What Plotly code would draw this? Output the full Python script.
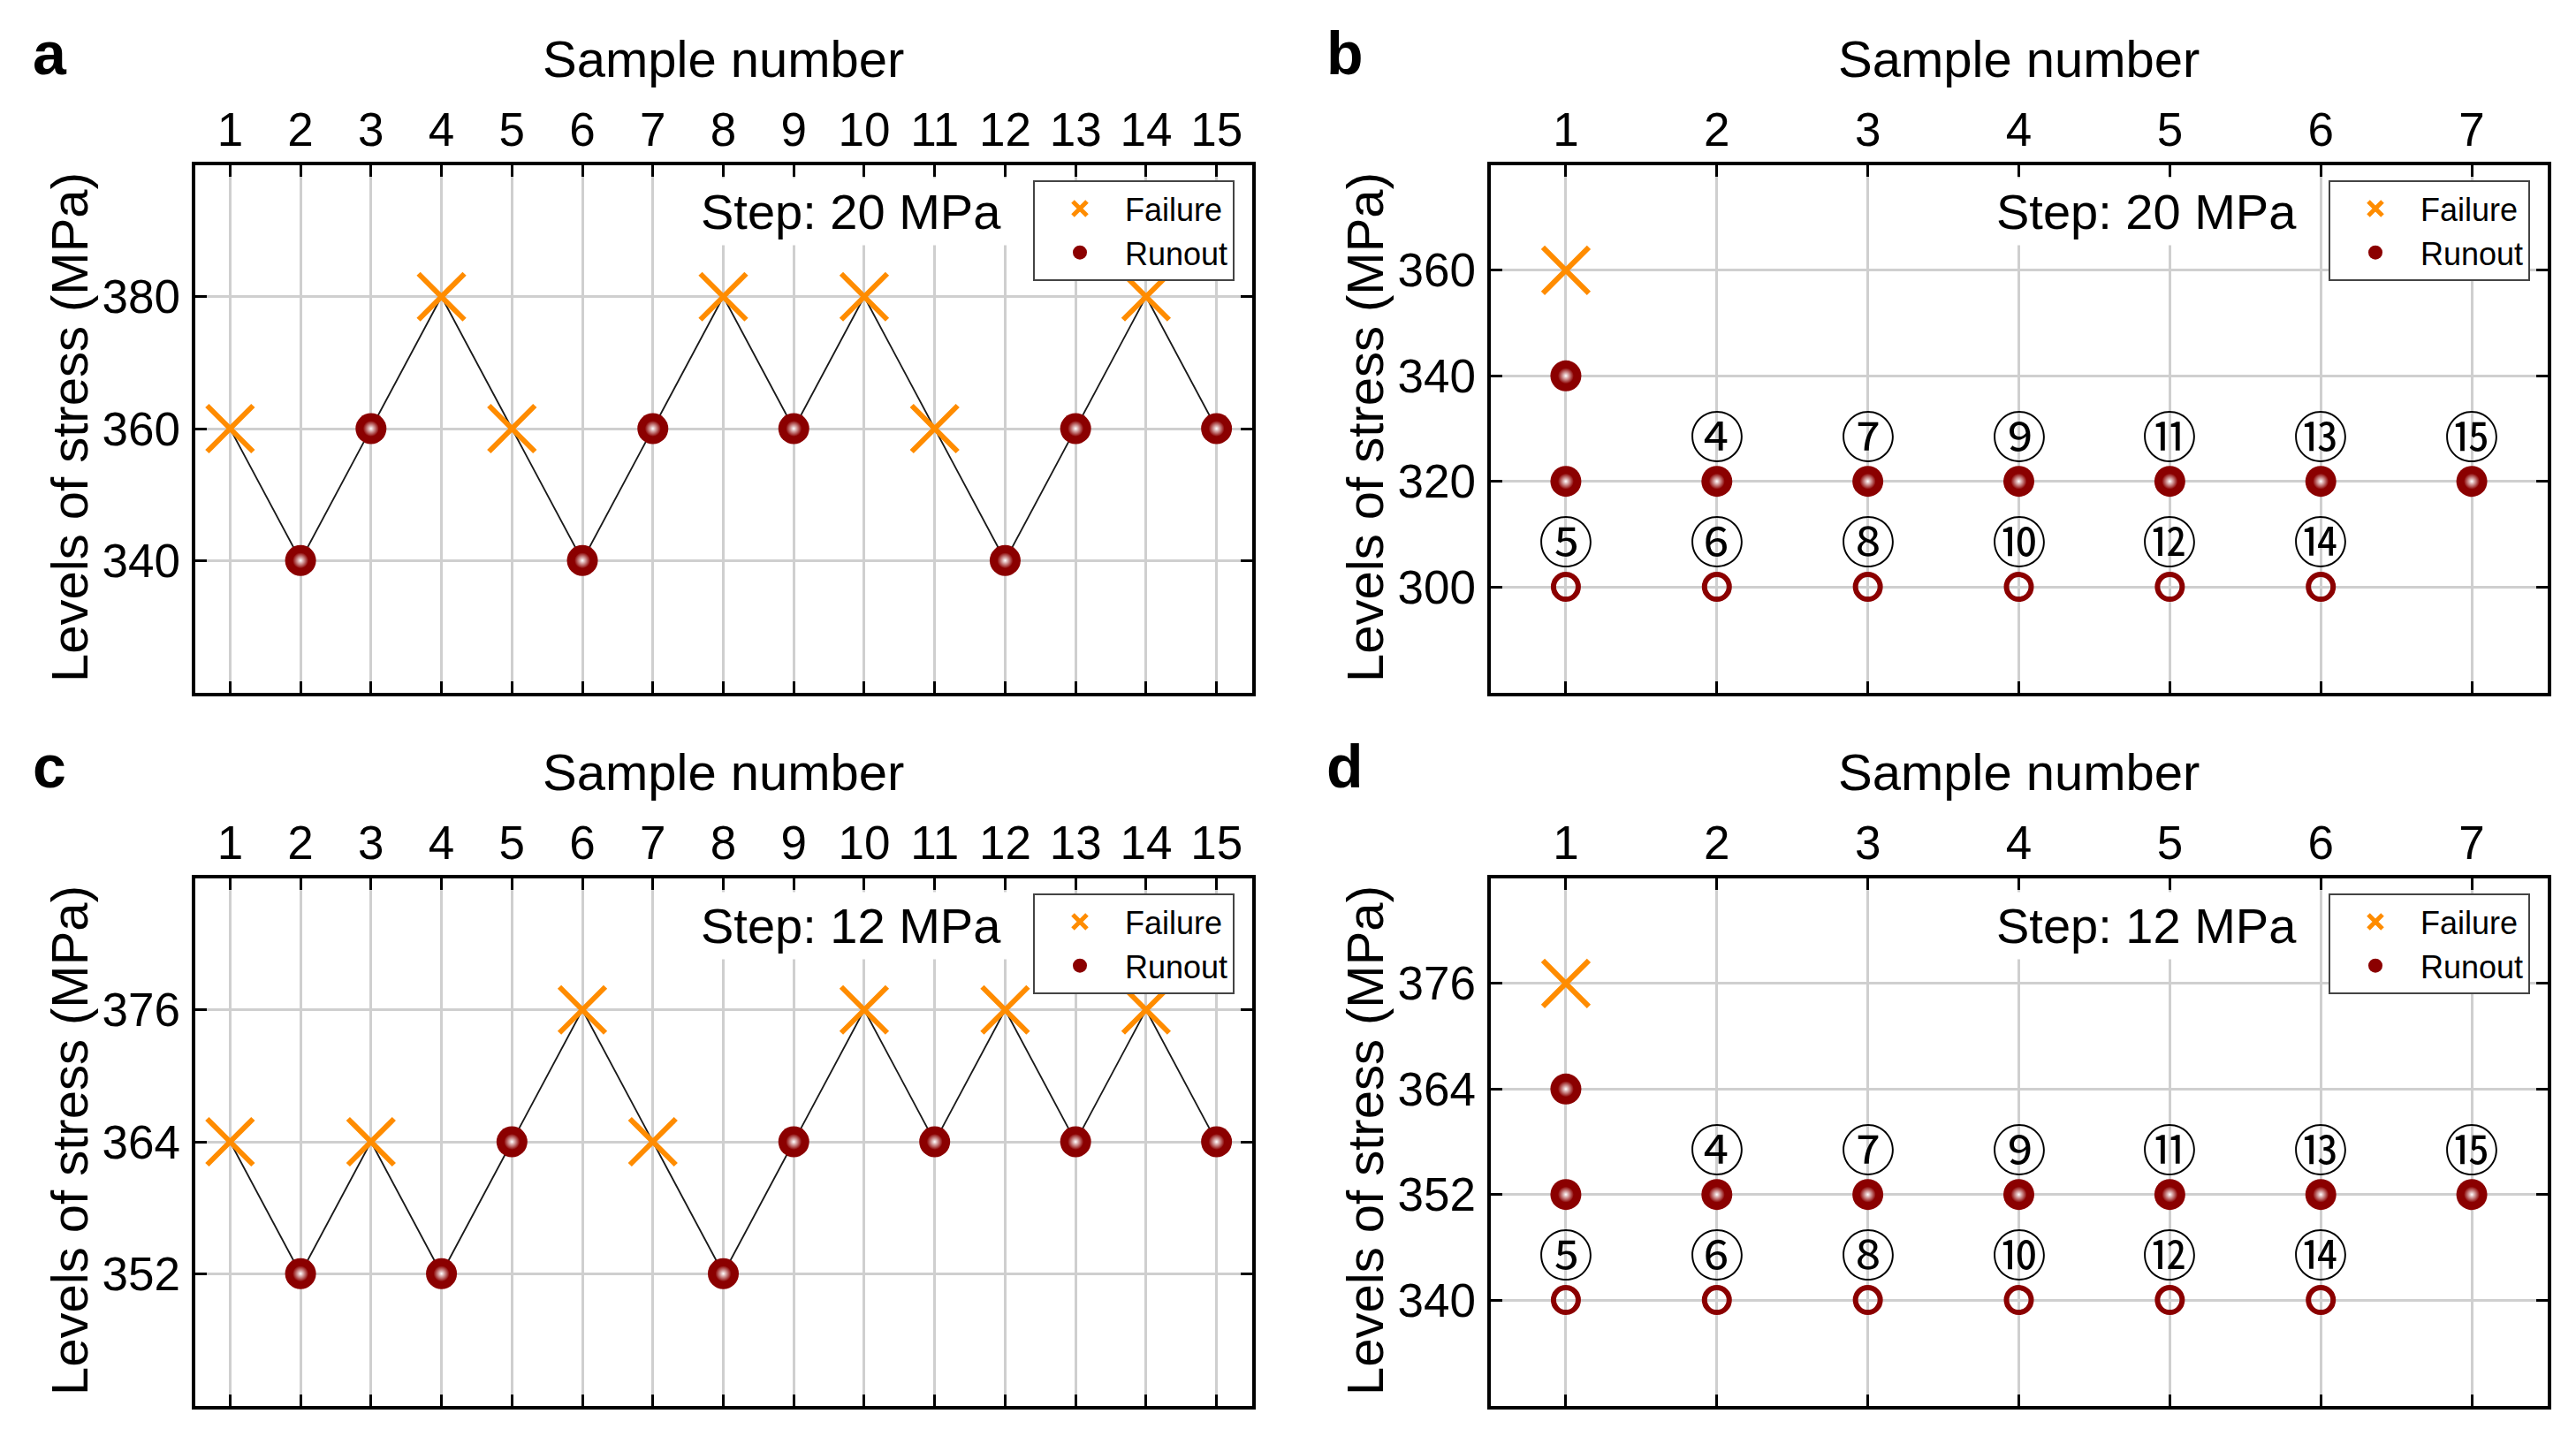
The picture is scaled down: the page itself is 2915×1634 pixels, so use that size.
import plotly.graph_objects as go

W, H = 2915, 1634

# ---------------- data ----------------
samples_15 = list(range(1, 16))
a_stress = [360, 340, 360, 380, 360, 340, 360, 380, 360, 380, 360, 340, 360, 380, 360]
a_result = ["F", "R", "R", "F", "F", "R", "R", "F", "R", "F", "F", "R", "R", "F", "R"]
c_stress = [364, 352, 364, 352, 364, 376, 364, 352, 364, 376, 364, 376, 364, 376, 364]
c_result = ["F", "R", "F", "R", "R", "F", "F", "R", "R", "F", "R", "F", "R", "F", "R"]

b_fail_x = [1]
b_fail_y = [360]
b_run_x = [1, 1, 2, 3, 4, 5, 6, 7]
b_run_y = [340, 320, 320, 320, 320, 320, 320, 320]
b_open_x = [1, 2, 3, 4, 5, 6]
b_open_y = [300, 300, 300, 300, 300, 300]

d_fail_x = [1]
d_fail_y = [376]
d_run_x = [1, 1, 2, 3, 4, 5, 6, 7]
d_run_y = [364, 352, 352, 352, 352, 352, 352, 352]
d_open_x = [1, 2, 3, 4, 5, 6]
d_open_y = [340, 340, 340, 340, 340, 340]

upper_label_x = [2, 3, 4, 5, 6, 7]
upper_labels = ["④", "⑦", "⑨", "⑪", "⑬", "⑮"]
lower_label_x = [1, 2, 3, 4, 5, 6]
lower_labels = ["⑤", "⑥", "⑧", "⑩", "⑫", "⑭"]
b_upper_level, b_lower_level = 320, 300
d_upper_level, d_lower_level = 352, 340

a_yticks = [340, 360, 380]
b_yticks = [300, 320, 340, 360]
c_yticks = [352, 364, 376]
d_yticks = [340, 352, 364, 376]
x15_ticks = list(range(1, 16))
x7_ticks = list(range(1, 8))

steps = ["Step: 20 MPa", "Step: 20 MPa", "Step: 12 MPa", "Step: 12 MPa"]
panel_letters = ["a", "b", "c", "d"]

# ---------------- styles ----------------
FONT = "Liberation Sans, Arial, Helvetica, sans-serif"
CIRC_FONT = "Noto Sans CJK SC, DejaVu Sans"
ORANGE = "#FF8C00"
DARKRED = "#8B0000"
GRID = "#cfcfcf"

# plot frames in pixels (left, right, top, bottom) - frame line centres
frames = {
    "a": (218.0, 1419.0, 184.0, 786.0),
    "b": (1684.0, 2885.0, 184.0, 786.0),
    "c": (218.0, 1419.0, 991.0, 1593.0),
    "d": (1684.0, 2885.0, 991.0, 1593.0),
}
INSET = 2.5  # plotly draws the axis line just outside the domain


def px(x):
    return x / W


def py(y):
    return 1 - y / H


fig = go.Figure()

axis_common = dict(
    showline=True, linecolor="black", linewidth=4, mirror="allticks",
    ticks="inside", ticklen=13, tickwidth=3, tickcolor="black",
    showgrid=True, gridcolor=GRID, gridwidth=2.5, zeroline=False,
    tickfont=dict(family=FONT, size=53, color="black"),
)

keys = ["a", "b", "c", "d"]
xnames = ["x", "x2", "x3", "x4"]
ynames = ["y", "y2", "y3", "y4"]
legnames = ["legend", "legend2", "legend3", "legend4"]
yranges = [[320, 400], [280, 380], [340, 388], [328, 388]]
xranges = [[0.5, 15.5], [0.5, 7.5], [0.5, 15.5], [0.5, 7.5]]
yticks_all = [a_yticks, b_yticks, c_yticks, d_yticks]
xticks_all = [x15_ticks, x7_ticks, x15_ticks, x7_ticks]

layout = dict(
    width=W, height=H, margin=dict(l=0, r=0, t=0, b=0),
    paper_bgcolor="white", plot_bgcolor="white",
    font=dict(family=FONT, color="black"),
)

for i, k in enumerate(keys):
    L, R, T, B = frames[k]
    xa = dict(axis_common)
    xa.update(domain=[px(L + INSET), px(R - INSET)], range=xranges[i], side="top",
              tickvals=xticks_all[i], anchor=ynames[i], ticklabelstandoff=-4)
    ya = dict(axis_common)
    ya.update(domain=[py(B - INSET), py(T + INSET)], range=yranges[i],
              tickvals=yticks_all[i], anchor=xnames[i], ticklabelstandoff=2)
    sfx = "" if i == 0 else str(i + 1)
    layout["xaxis" + sfx] = xa
    layout["yaxis" + sfx] = ya
    # legend box
    lx = L + (1169 - 218)
    ly = T + (204 - 184)
    layout[legnames[i]] = dict(
        x=px(lx), y=py(ly), xanchor="left", yanchor="top",
        bgcolor="white", bordercolor="#444444", borderwidth=2,
        font=dict(family=FONT, size=36, color="black"),
        itemwidth=92, tracegroupgap=0, traceorder="normal",
    )


def add_failure(x, y, xr, yr, leg):
    fig.add_trace(go.Scatter(
        x=x, y=y, mode="markers", name="Failure", xaxis=xr, yaxis=yr,
        legend=leg, showlegend=True,
        marker=dict(symbol="x-thin", size=52, color=ORANGE,
                    line=dict(width=6, color=ORANGE)),
    ))


def add_runout(x, y, xr, yr, leg):
    fig.add_trace(go.Scatter(
        x=x, y=y, mode="markers", name="Runout", xaxis=xr, yaxis=yr,
        legend=leg, showlegend=True,
        marker=dict(symbol="circle", size=35, color=DARKRED, line=dict(width=0)),
    ))
    fig.add_trace(go.Scatter(
        x=x, y=y, mode="markers", name="Runout", xaxis=xr, yaxis=yr,
        showlegend=False, hoverinfo="skip",
        marker=dict(symbol="circle", size=18, color=DARKRED, line=dict(width=0),
                    gradient=dict(type="radial", color="#ffffff")),
    ))


# panels a and c (staircase sequences)
for i, (stress, result) in zip([0, 2], [(a_stress, a_result), (c_stress, c_result)]):
    xr, yr, leg = xnames[i], ynames[i], legnames[i]
    fig.add_trace(go.Scatter(
        x=samples_15, y=stress, mode="lines", xaxis=xr, yaxis=yr,
        line=dict(color="#1a1a1a", width=1.8), showlegend=False, hoverinfo="skip",
    ))
    fx = [s for s, r in zip(samples_15, result) if r == "F"]
    fy = [v for v, r in zip(stress, result) if r == "F"]
    rx = [s for s, r in zip(samples_15, result) if r == "R"]
    ry = [v for v, r in zip(stress, result) if r == "R"]
    add_failure(fx, fy, xr, yr, leg)
    add_runout(rx, ry, xr, yr, leg)

# panels b and d
for i, (fxs, fys, rxs, rys, oxs, oys) in zip(
        [1, 3],
        [(b_fail_x, b_fail_y, b_run_x, b_run_y, b_open_x, b_open_y),
         (d_fail_x, d_fail_y, d_run_x, d_run_y, d_open_x, d_open_y)]):
    xr, yr, leg = xnames[i], ynames[i], legnames[i]
    add_failure(fxs, fys, xr, yr, leg)
    add_runout(rxs, rys, xr, yr, leg)
    fig.add_trace(go.Scatter(
        x=oxs, y=oys, mode="markers", xaxis=xr, yaxis=yr, showlegend=False,
        marker=dict(symbol="circle-open", size=28, color=DARKRED,
                    line=dict(width=6, color=DARKRED)),
    ))

annotations = []
for i, k in enumerate(keys):
    L, R, T, B = frames[k]
    # x-axis title (top)
    annotations.append(dict(
        text="Sample number", x=px((L + R) / 2), y=py(T - 118), xref="paper", yref="paper",
        xanchor="center", yanchor="middle", showarrow=False,
        font=dict(family=FONT, size=58, color="black"),
    ))
    # y-axis title
    annotations.append(dict(
        text="Levels of stress (MPa)", x=px(L - 140), y=py((T + B) / 2 - 1), xref="paper", yref="paper",
        xanchor="center", yanchor="middle", textangle=-90, showarrow=False,
        font=dict(family=FONT, size=58, color="black"),
    ))
    # step label
    annotations.append(dict(
        text=steps[i], x=px(L + (1140 - 218)), y=py(T + (240 - 184)), xref="paper", yref="paper",
        xanchor="right", yanchor="middle", showarrow=False, bgcolor="white", borderpad=6,
        font=dict(family=FONT, size=56, color="black"),
    ))
    # panel letter
    annotations.append(dict(
        text="<b>%s</b>" % panel_letters[i], x=px(L - 162), y=py(T - 124), xref="paper", yref="paper",
        xanchor="center", yanchor="middle", showarrow=False,
        font=dict(family=FONT, size=68, color="black"),
    ))

# circled sample numbers in panels b and d
for i, (up_lvl, lo_lvl) in zip([1, 3], [(b_upper_level, b_lower_level), (d_upper_level, d_lower_level)]):
    for xv, lab in zip(upper_label_x, upper_labels):
        annotations.append(dict(
            text=lab, x=xv, y=up_lvl, xref=xnames[i], yref=ynames[i], yshift=54,
            xanchor="center", yanchor="middle", showarrow=False,
            font=dict(family=CIRC_FONT, size=62, color="black"),
        ))
    for xv, lab in zip(lower_label_x, lower_labels):
        annotations.append(dict(
            text=lab, x=xv, y=lo_lvl, xref=xnames[i], yref=ynames[i], yshift=54,
            xanchor="center", yanchor="middle", showarrow=False,
            font=dict(family=CIRC_FONT, size=62, color="black"),
        ))

layout["annotations"] = annotations
fig.update_layout(**layout)
fig.write_html("out.html", config={"displayModeBar": False},
               post_script="document.body.style.margin='0px';")
